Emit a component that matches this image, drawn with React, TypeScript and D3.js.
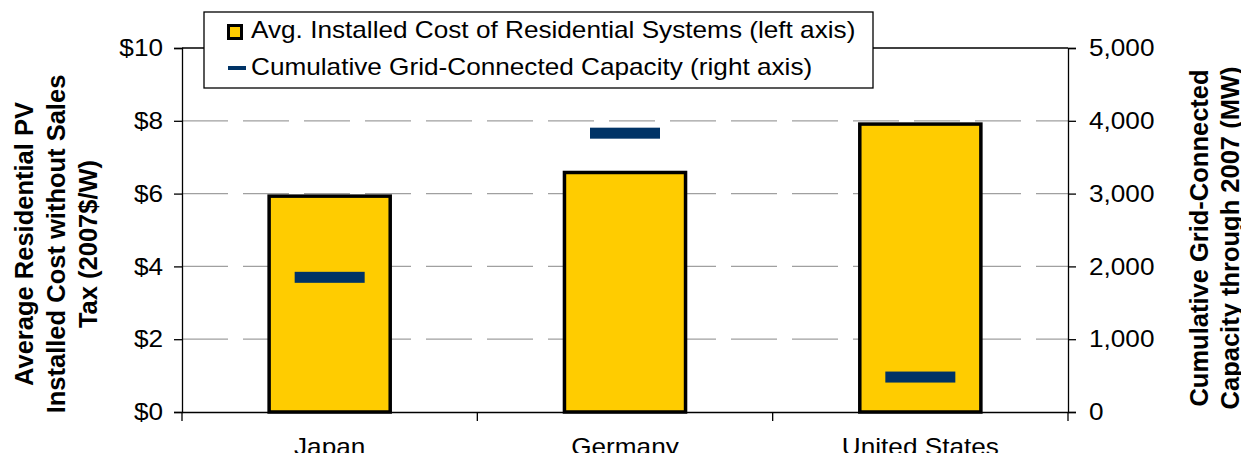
import { useEffect, useRef } from "react";
import * as d3 from "d3";

// values
const countries = ["Japan", "Germany", "United States"];
const avgCost = [5.93, 6.58, 7.91]; // 2007$/W
const capacity = [1850, 3830, 480]; // MW, cumulative through 2007
const costTicks = [0, 2, 4, 6, 8, 10];
const capTicks = [0, 1000, 2000, 3000, 4000, 5000];

const legendItems = [
  "Avg. Installed Cost of Residential Systems (left axis)",
  "Cumulative Grid-Connected Capacity (right axis)",
];
const leftTitle = ["Average Residential PV", "Installed Cost without Sales", "Tax (2007$/W)"];
const rightTitle = ["Cumulative Grid-Connected", "Capacity through 2007 (MW)"];

export default function App() {
  const svgRef = useRef<SVGSVGElement | null>(null);

  useEffect(() => {
    if (!svgRef.current) return;
    const svg = d3.select(svgRef.current);
    svg.selectAll("*").remove();

    const width = 1249;
    const height = 461;
    const m = { left: 182, right: 1068, top: 48, bottom: 412 };
    const font = "'Liberation Sans', Arial, sans-serif";
    const fs = 24;
    const stretch = 1.09; // the source text is a bit wide

    svg.attr("width", width).attr("height", height).style("font-family", font);

    const x = d3.scaleBand<string>().domain(countries).range([m.left, m.right]);
    const yL = d3.scaleLinear().domain([0, 10]).range([m.bottom, m.top]);
    const yR = d3.scaleLinear().domain([0, 5000]).range([m.bottom, m.top]);

    // gridlines (dashed gray)
    svg
      .append("g")
      .selectAll("line")
      .data(costTicks.filter((t) => t > 0 && t < 10))
      .enter()
      .append("line")
      .attr("x1", m.left)
      .attr("x2", m.right)
      .attr("y1", (d) => yL(d))
      .attr("y2", (d) => yL(d))
      .attr("stroke", "#a0a0a0")
      .attr("stroke-width", 1.3)
      .attr("stroke-dasharray", "46,15");

    // top border
    svg
      .append("line")
      .attr("x1", m.left)
      .attr("x2", m.right)
      .attr("y1", m.top)
      .attr("y2", m.top)
      .attr("stroke", "#000")
      .attr("stroke-width", 1.3);

    // bars
    const barW = x.bandwidth() * 0.41;
    svg
      .append("g")
      .selectAll("rect")
      .data(countries)
      .enter()
      .append("rect")
      .attr("x", (d) => x(d)! + x.bandwidth() / 2 - barW / 2)
      .attr("y", (_, i) => yL(avgCost[i]))
      .attr("width", barW)
      .attr("height", (_, i) => yL(0) - yL(avgCost[i]))
      .attr("fill", "#ffcc00")
      .attr("stroke", "#000")
      .attr("stroke-width", 3.5);

    // capacity markers
    const mW = 70;
    const mH = 11;
    svg
      .append("g")
      .selectAll("rect")
      .data(countries)
      .enter()
      .append("rect")
      .attr("x", (d) => x(d)! + x.bandwidth() / 2 - mW / 2)
      .attr("y", (_, i) => yR(capacity[i]) - mH / 2)
      .attr("width", mW)
      .attr("height", mH)
      .attr("fill", "#003366");

    // left axis
    const gL = svg
      .append("g")
      .attr("transform", `translate(${m.left},0)`)
      .call(
        d3
          .axisLeft(yL)
          .tickValues(costTicks)
          .tickSize(8)
          .tickPadding(11)
          .tickFormat((d) => `$${d}`)
      );
    gL.select(".domain").attr("stroke-width", 1.3);
    gL.selectAll(".tick line").attr("stroke-width", 1.3);
    gL.selectAll("text").attr("class", "hs");

    // right axis
    const gR = svg
      .append("g")
      .attr("transform", `translate(${m.right},0)`)
      .call(
        d3
          .axisRight(yR)
          .tickValues(capTicks)
          .tickSize(8)
          .tickPadding(13)
          .tickFormat(d3.format(","))
      );
    gR.select(".domain").attr("stroke-width", 1.3);
    gR.selectAll(".tick line").attr("stroke-width", 1.3);
    gR.selectAll("text").attr("class", "hs");

    // bottom axis
    const gB = svg
      .append("g")
      .attr("transform", `translate(0,${m.bottom})`)
      .call(d3.axisBottom(x).tickSize(0).tickPadding(26));
    gB.select(".domain").attr("stroke-width", 1.3);
    gB.selectAll("text").attr("class", "hs");
    // category separator ticks
    svg
      .append("g")
      .selectAll("line")
      .data([...countries.map((c) => x(c)!), m.right])
      .enter()
      .append("line")
      .attr("x1", (d) => d)
      .attr("x2", (d) => d)
      .attr("y1", m.bottom)
      .attr("y2", m.bottom + 9)
      .attr("stroke", "#000")
      .attr("stroke-width", 1.3);

    // axis titles
    const lt = svg
      .append("text")
      .attr("transform", `translate(0,244) rotate(-90)`)
      .attr("text-anchor", "middle")
      .attr("font-size", 25.5)
      .attr("font-weight", "bold");
    leftTitle.forEach((s, i) =>
      lt.append("tspan").attr("x", 0).attr("y", 33 + i * 32).text(s)
    );

    const rt = svg
      .append("text")
      .attr("transform", `translate(0,238) rotate(-90)`)
      .attr("text-anchor", "middle")
      .attr("font-size", 25.5)
      .attr("font-weight", "bold");
    rightTitle.forEach((s, i) =>
      rt.append("tspan").attr("x", 0).attr("y", 1208 + i * 31).text(s)
    );

    // legend
    const lg = svg.append("g");
    lg.append("rect")
      .attr("x", 204)
      .attr("y", 12)
      .attr("width", 669)
      .attr("height", 76)
      .attr("fill", "#fff")
      .attr("stroke", "#000")
      .attr("stroke-width", 1.3);
    lg.append("rect")
      .attr("x", 228.5)
      .attr("y", 25.5)
      .attr("width", 13)
      .attr("height", 13)
      .attr("fill", "#ffcc00")
      .attr("stroke", "#000")
      .attr("stroke-width", 3);
    lg.append("rect")
      .attr("x", 228)
      .attr("y", 66)
      .attr("width", 18)
      .attr("height", 4)
      .attr("fill", "#003366");
    legendItems.forEach((s, i) =>
      lg
        .append("text")
        .attr("class", "hs")
        .attr("x", 251)
        .attr("y", 38 + i * 37)
        .text(s)
    );

    // horizontal text: same size, slightly widened like the source
    svg
      .selectAll<SVGTextElement, unknown>("text.hs")
      .attr("font-size", fs)
      .attr("font-family", font)
      .attr("fill", "#000")
      .each(function () {
        const w = this.getComputedTextLength();
        d3.select(this)
          .attr("textLength", w * stretch)
          .attr("lengthAdjust", "spacingAndGlyphs");
      });
  }, []);

  return (
    <div style={{ margin: -8 }}>
      <svg ref={svgRef} style={{ display: "block" }} />
    </div>
  );
}
